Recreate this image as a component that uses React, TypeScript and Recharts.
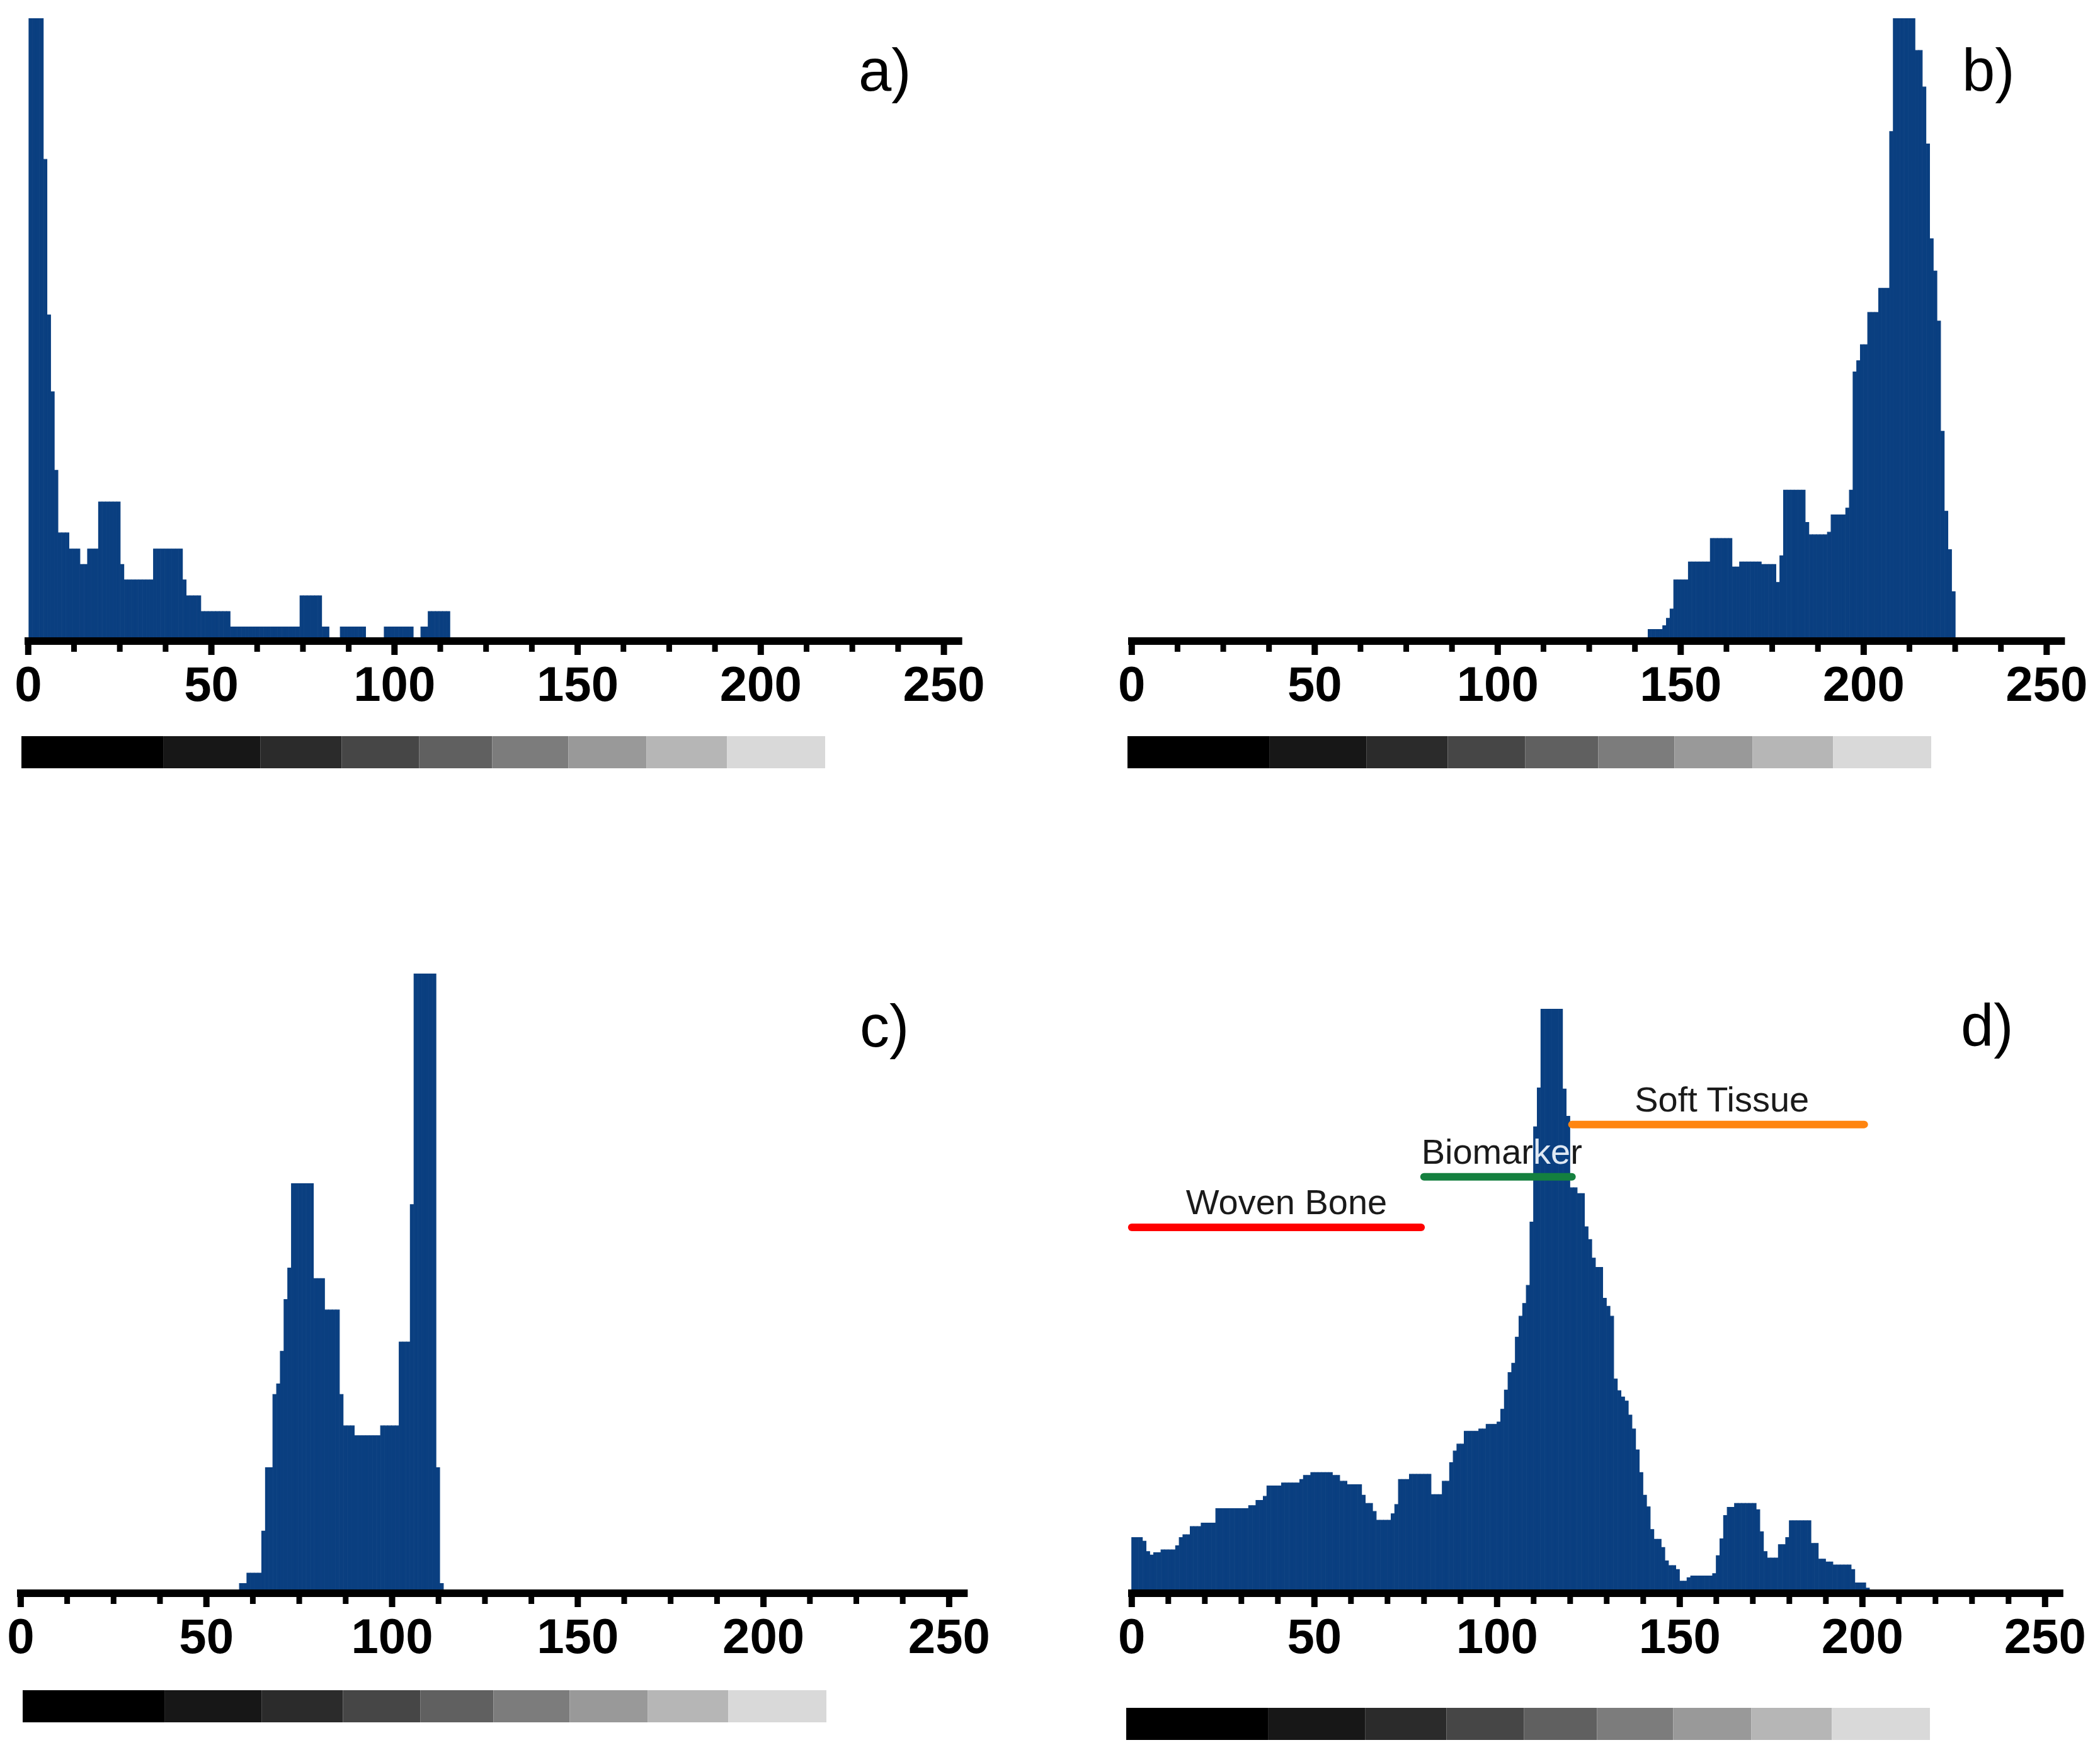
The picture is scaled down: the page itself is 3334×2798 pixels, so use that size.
import React from "react";
import { Bar, BarChart, ReferenceLine, XAxis, YAxis } from "recharts";

// Histogram heights per grey level, in % of the clipped plot height
const startA = 0;
const countsA = [
  100, 100, 100, 100, 77.2, 52.1, 39.7, 27, 16.9, 16.9, 16.9, 14.3, 14.3, 14.3, 11.8, 11.8, 14.3, 14.3, 14.3,
  21.9, 21.9, 21.9, 21.9, 21.9, 21.9, 11.8, 9.3, 9.3, 9.3, 9.3, 9.3, 9.3, 9.3, 9.3, 14.3, 14.3, 14.3, 14.3,
  14.3, 14.3, 14.3, 14.3, 9.3, 6.75, 6.75, 6.75, 6.75, 4.2, 4.2, 4.2, 4.2, 4.2, 4.2, 4.2, 4.2, 1.7, 1.7, 1.7,
  1.7, 1.7, 1.7, 1.7, 1.7, 1.7, 1.7, 1.7, 1.7, 1.7, 1.7, 1.7, 1.7, 1.7, 1.7, 1.7, 6.75, 6.75, 6.75, 6.75, 6.75,
  6.75, 1.7, 1.7, 0, 0, 0, 1.7, 1.7, 1.7, 1.7, 1.7, 1.7, 1.7, 0, 0, 0, 0, 0, 1.7, 1.7, 1.7, 1.7, 1.7, 1.7, 1.7,
  1.7, 0, 0, 1.7, 1.7, 4.2, 4.2, 4.2, 4.2, 4.2, 4.2,
];

const startB = 141;
const countsB = [
  1.3, 1.3, 1.3, 1.3, 1.9, 3.1, 4.6, 9.3, 9.3, 9.3, 9.3, 12.2, 12.2, 12.2, 12.2, 12.2, 12.2, 16, 16, 16, 16, 16,
  16, 11.4, 11.4, 12.2, 12.2, 12.2, 12.2, 12.2, 12.2, 11.8, 11.8, 11.8, 11.8, 8.9, 13.2, 23.8, 23.8, 23.8, 23.8,
  23.8, 23.8, 18.6, 16.6, 16.6, 16.6, 16.6, 16.6, 17, 19.8, 19.8, 19.8, 19.8, 20.9, 23.8, 42.9, 44.7, 47.3, 47.3,
  52.5, 52.5, 52.5, 56.4, 56.4, 56.4, 81.7, 100, 100, 100, 100, 100, 100, 94.8, 94.8, 88.9, 79.7, 64.4, 59.2,
  51.1, 33.3, 20.4, 14.2, 7.4,
];

const startC = 59;
const countsC = [
  1, 1, 2.7, 2.7, 2.7, 2.7, 9.5, 19.8, 19.8, 31.7, 33.4, 38.7, 47.1, 52.2, 65.9, 65.9, 65.9, 65.9, 65.9, 65.9,
  50.5, 50.5, 50.5, 45.4, 45.4, 45.4, 45.4, 31.7, 26.6, 26.6, 26.6, 25, 25, 25, 25, 25, 25, 25, 26.6, 26.6, 26.6,
  26.6, 26.6, 40.2, 40.2, 40.2, 62.5, 100, 100, 100, 100, 100, 100, 19.8, 1,
];

const startD = 0;
const countsD = [
  9, 9, 9, 8.4, 6.6, 6, 6.4, 6.4, 6.9, 6.9, 6.9, 6.9, 7.6, 9, 9.5, 9.5, 10.9, 10.9, 10.9, 11.5, 11.5, 11.5, 11.5,
  14, 14, 14, 14, 14, 14, 14, 14, 14, 14.5, 14.5, 15.4, 15.4, 16.1, 17.9, 17.9, 17.9, 17.9, 18.4, 18.4, 18.4, 18.4,
  18.4, 19, 19.7, 19.7, 20.2, 20.2, 20.2, 20.2, 20.2, 20.2, 19.7, 19.7, 18.7, 18.7, 18.1, 18.1, 18.1, 18.1, 16.3,
  14.9, 14.9, 13.5, 12, 12, 12, 12, 13.1, 14.7, 19, 19, 19, 19.9, 19.9, 19.9, 19.9, 19.9, 19.9, 16.4, 16.4, 16.4,
  18.7, 18.7, 21.9, 23.9, 25.1, 25.1, 27.3, 27.3, 27.3, 27.3, 27.7, 27.7, 28.5, 28.5, 28.5, 28.9, 31.1, 34.4, 37.4,
  39, 43.5, 47.1, 49.3, 52.4, 63.3, 79.7, 86.4, 100, 100, 100, 100, 100, 100, 86.2, 81.5, 69.2, 69.2, 68.2, 68.2,
  62.5, 60.3, 57.1, 55.5, 55.5, 50.2, 48.8, 47.1, 36.3, 34.3, 33.2, 32.5, 30.1, 27.7, 24.1, 20.2, 16.3, 14.3, 10.4,
  8.7, 8.7, 7.3, 5, 4.2, 4.2, 3.5, 1.5, 1.5, 2.1, 2.4, 2.4, 2.4, 2.4, 2.4, 2.4, 2.8, 5.9, 8.8, 12.8, 14.2, 14.2,
  14.9, 14.9, 14.9, 14.9, 14.9, 14.9, 13.8, 10, 6.6, 5.5, 5.5, 5.5, 7.8, 7.8, 9, 11.9, 11.9, 11.9, 11.9, 11.9, 11.9,
  8, 8, 5.3, 5.3, 4.8, 4.8, 4.3, 4.3, 4.3, 4.3, 4.3, 3.5, 1.2, 1.2, 1.2, 0.3,
];

const ticksEighth = [0, 12.5, 25, 37.5, 50, 62.5, 75, 87.5, 100, 112.5, 125, 137.5, 150, 162.5, 175, 187.5, 200, 212.5, 225, 237.5, 250];
const ticksTenth = [0, 10, 20, 30, 40, 50, 60, 70, 80, 90, 100, 110, 120, 130, 140, 150, 160, 170, 180, 190, 200, 210, 220, 230, 240, 250];

// Width of each grey band in the scale strip, and its colour
const stripWidths = [38.7, 26.5, 22.2, 21.2, 19.9, 20.8, 21.3, 22, 26.8];
const stripFills = ["#000000", "#171717", "#2b2b2b", "#464646", "#606060", "#7c7c7c", "#999999", "#b6b6b6", "#d9d9d9"];

const rangeNames = ["Woven Bone", "Biomarker", "Soft Tissue"];
const rangeStarts = [0, 80, 120.5];
const rangeEnds = [79.2, 120.5, 200.5];
const rangeLevels = [62.4, 71.1, 80.1];
const rangeColors = ["#ff0000", "#14803f", "#ff8510"];

const BAR_COLOR = "#0a3f80";
const FONT = "'Liberation Sans', Arial, sans-serif";
const PAD_LEFT = 70;
const PAD_RIGHT = 70;
const LABEL_NUDGE: Record<string, number> = { "Woven Bone": 16, Biomarker: 6, "Soft Tissue": 6 };

function AxisTick({ x, y, payload }: any) {
  const major = payload.value % 50 === 0;
  return (
    <g>
      <line x1={x} x2={x} y1={y} y2={y + (major ? 22 : 17)} stroke="#000" strokeWidth={major ? 10 : 9} />
      {major && (
        <text x={x} y={y + 95} textAnchor="middle" fontFamily={FONT} fontWeight={700} fontSize={78} fill="#000">
          {payload.value}
        </text>
      )}
    </g>
  );
}

function RangeLabel({ viewBox, name }: any) {
  const cx = viewBox.x + viewBox.width / 2 + LABEL_NUDGE[name];
  const props = { x: cx, y: viewBox.y - 21, textAnchor: "middle" as const, fontFamily: FONT, fontSize: 56, fill: "#1a1a1a" };
  if (name === "Biomarker") {
    // the part of the word that sits on the peak reads light in the source
    return (
      <text {...props}>
        Biomar<tspan fill="#dfe8f3">ke</tspan>r
      </text>
    );
  }
  return <text {...props}>{name}</text>;
}

type PanelProps = {
  name: string;
  start: number;
  counts: number[];
  ticks: number[];
  x0: number;
  scale: number;
  top: number;
  axisY: number;
  shift: number;
  nameX: number;
  nameY: number;
  stripX: number;
  stripY: number;
  ranges?: boolean;
};

function Panel({ name, start, counts, ticks, x0, scale, top, axisY, shift, nameX, nameY, stripX, stripY, ranges }: PanelProps) {
  const data = counts.map((count, i) => ({ level: start + i + 0.5 + shift, count }));
  const plotH = axisY - top;
  const stripTotal = stripWidths.reduce((a, b) => a + b, 0);
  const stripRow = [Object.fromEntries(stripWidths.map((w, i) => [`band${i}`, w]))];
  return (
    <>
      <div style={{ position: "absolute", left: x0 - scale - PAD_LEFT, top }}>
        <BarChart
          width={PAD_LEFT + 256 * scale + PAD_RIGHT}
          height={plotH + 130}
          data={data}
          margin={{ top: 0, right: PAD_RIGHT, bottom: 0, left: PAD_LEFT }}
        >
          <XAxis
            type="number"
            dataKey="level"
            domain={[-1, 255]}
            ticks={ticks}
            interval={0}
            height={130}
            tickLine={false}
            tickSize={0}
            tickMargin={0}
            axisLine={{ stroke: "#000", strokeWidth: 12 }}
            tick={<AxisTick />}
          />
          <YAxis hide domain={[-0.57, 100]} allowDataOverflow />
          <Bar dataKey="count" fill={BAR_COLOR} stroke={BAR_COLOR} strokeWidth={1.2} barSize={scale} isAnimationActive={false} />
          {ranges &&
            rangeNames.map((rangeName, i) => (
              <ReferenceLine
                key={rangeName}
                ifOverflow="visible"
                segment={[
                  { x: rangeStarts[i], y: rangeLevels[i] },
                  { x: rangeEnds[i], y: rangeLevels[i] },
                ]}
                stroke={rangeColors[i]}
                strokeWidth={12}
                strokeLinecap="round"
                label={(p: any) => <RangeLabel {...p} name={rangeName} />}
              />
            ))}
        </BarChart>
      </div>
      <div style={{ position: "absolute", left: nameX, top: nameY - 86, fontFamily: FONT, fontSize: 94, lineHeight: "106px", color: "#000" }}>
        {name}
      </div>
      <div style={{ position: "absolute", left: stripX, top: stripY }}>
        <BarChart layout="vertical" width={1276} height={51} data={stripRow} barCategoryGap={0} margin={{ top: 0, right: 0, bottom: 0, left: 0 }}>
          <XAxis type="number" hide domain={[0, stripTotal]} />
          <YAxis type="category" hide />
          {stripWidths.map((_, i) => (
            <Bar key={i} dataKey={`band${i}`} stackId="strip" fill={stripFills[i]} isAnimationActive={false} />
          ))}
        </BarChart>
      </div>
    </>
  );
}

export default function App() {
  return (
    <div style={{ position: "absolute", left: 0, top: 0, width: 3334, height: 2798, background: "#fff", overflow: "hidden" }}>
      <Panel name="a)" start={startA} counts={countsA} ticks={ticksEighth} x0={44.6} scale={5.815} top={29} axisY={1018} shift={0.2} nameX={1363} nameY={145} stripX={34} stripY={1169} />
      <Panel name="b)" start={startB} counts={countsB} ticks={ticksEighth} x0={1797.3} scale={5.81} top={29} axisY={1018} shift={0.1} nameX={3115} nameY={145} stripX={1790} stripY={1169} />
      <Panel name="c)" start={startC} counts={countsC} ticks={ticksEighth} x0={33} scale={5.896} top={1546} axisY={2530} shift={-0.1} nameX={1365} nameY={1663} stripX={36} stripY={2684} />
      <Panel name="d)" start={startD} counts={countsD} ticks={ticksTenth} x0={1797} scale={5.8} top={1602} axisY={2530} shift={0} nameX={3113} nameY={1662} stripX={1788} stripY={2712} ranges />
    </div>
  );
}
